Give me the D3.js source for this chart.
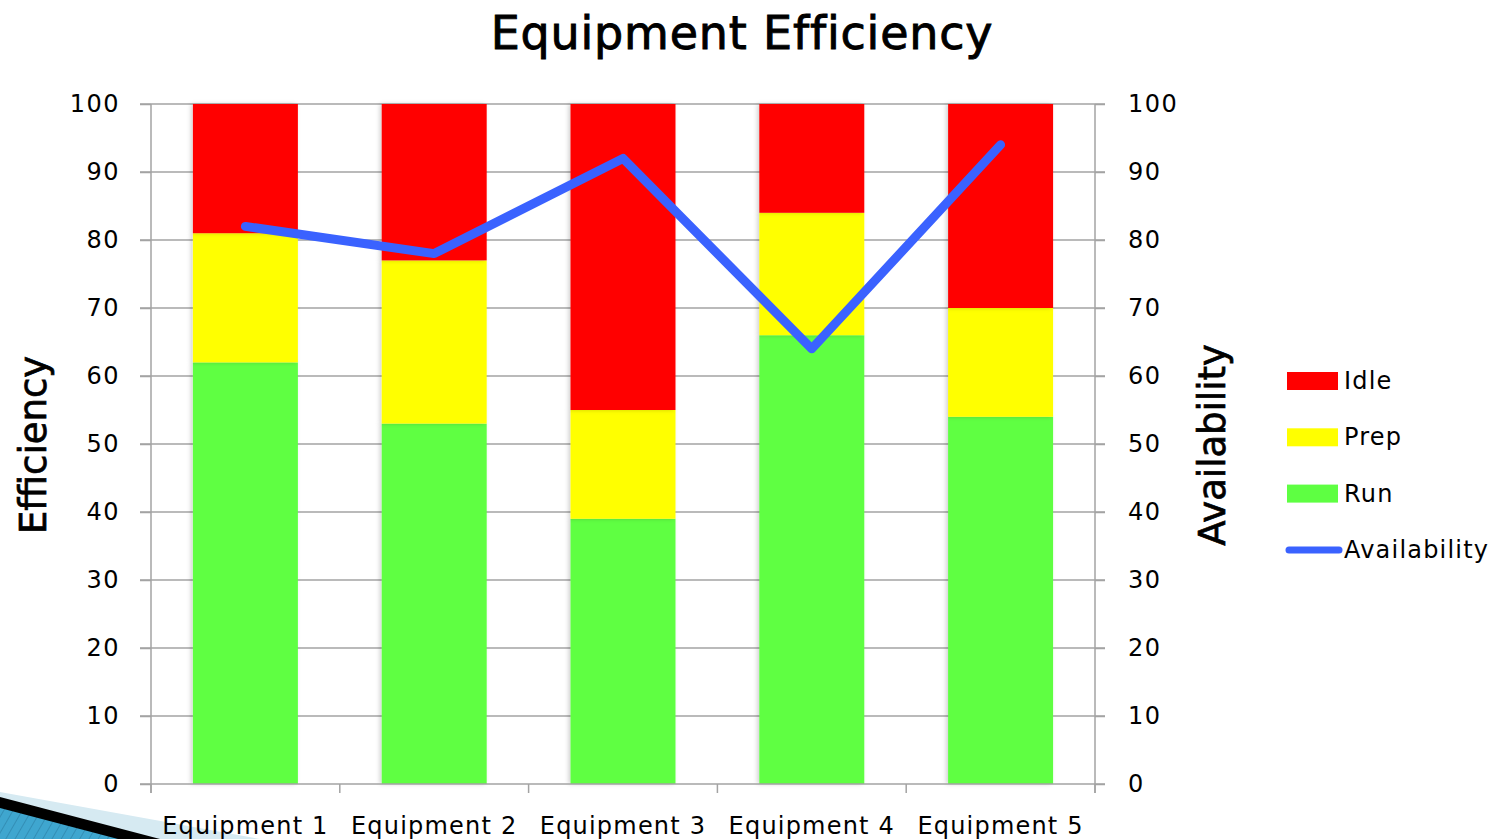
<!DOCTYPE html>
<html>
<head>
<meta charset="utf-8">
<script src="https://cdnjs.cloudflare.com/ajax/libs/d3/7.8.5/d3.min.js"></script>
<style>
  body { margin: 0; background: #fff; }
  svg text { font-family: "DejaVu Sans", sans-serif; fill: #000; }
</style>
</head>
<body>
<div id="chart"></div>
<script>
// chart data
const categories = ["Equipment 1", "Equipment 2", "Equipment 3", "Equipment 4", "Equipment 5"];
const runValues = [62, 53, 39, 66, 54];
const prepValues = [19, 24, 16, 18, 16];
const idleValues = [19, 23, 45, 16, 30];
const availability = [82, 78, 92, 64, 94];
const yTicks = [0, 10, 20, 30, 40, 50, 60, 70, 80, 90, 100];

const seriesNames = ["Run", "Prep", "Idle"];
const colors = {Run: "#5eff42", Prep: "#ffff00", Idle: "#ff0000"};
const lineColor = "#3a62ff";

const W = 1493, H = 839;
const margin = {top: 104, right: 398, bottom: 55, left: 151};

const svg = d3.select("#chart").append("svg")
    .attr("width", W)
    .attr("height", H);

const defs = svg.append("defs");
defs.append("filter").attr("id", "shadow")
    .attr("x", "-10%").attr("width", "120%")
    .append("feDropShadow")
    .attr("dx", -2).attr("dy", 0)
    .attr("stdDeviation", 2)
    .attr("flood-color", "#000")
    .attr("flood-opacity", 0.18);

const pattern = defs.append("pattern").attr("id", "hatch")
    .attr("patternUnits", "userSpaceOnUse")
    .attr("width", 8).attr("height", 8)
    .attr("patternTransform", "rotate(30)");
pattern.append("rect").attr("width", 8).attr("height", 8).attr("fill", "#3fa6cf");
pattern.append("line").attr("x1", 0).attr("y1", 0).attr("x2", 0).attr("y2", 8)
    .attr("stroke", "#2f86ad").attr("stroke-width", 1.5);

// corner decoration
svg.append("path")
    .attr("d", "M0,792 L260,839 L0,839 Z")
    .attr("fill", "#d6eaf2");
svg.append("path")
    .attr("d", "M0,797 L160,839 L0,839 Z")
    .attr("fill", "#000");
svg.append("path")
    .attr("d", "M0,808 L118,839 L0,839 Z")
    .attr("fill", "url(#hatch)");

const innerW = W - margin.left - margin.right;
const innerH = H - margin.top - margin.bottom;

const x = d3.scaleBand()
    .domain(categories)
    .range([0, innerW])
    .paddingInner(0.444)
    .paddingOuter(0.222);

const y = d3.scaleLinear()
    .domain([0, 100])
    .range([innerH, 0]);

const g = svg.append("g")
    .attr("transform", "translate(" + margin.left + "," + margin.top + ")");

// gridlines
g.append("g").selectAll("line")
    .data(yTicks.filter(d => d > 0))
    .enter()
    .append("line")
    .attr("x1", -11).attr("x2", innerW + 10)
    .attr("y1", d => y(d)).attr("y2", d => y(d))
    .attr("stroke", "#a3a3a3")
    .attr("stroke-width", 1.5);

// stacked bars
const table = categories.map((c, i) => ({
    name: c, Run: runValues[i], Prep: prepValues[i], Idle: idleValues[i]
}));
const stacked = d3.stack().keys(seriesNames)(table);

g.append("g").selectAll("g")
    .data(stacked)
    .enter()
    .append("g")
    .attr("fill", d => colors[d.key])
    .selectAll("rect")
    .data(d => d)
    .enter()
    .append("rect")
    .attr("x", d => x(d.data.name))
    .attr("y", d => y(d[1]))
    .attr("width", x.bandwidth())
    .attr("height", d => y(d[0]) - y(d[1]))
    .attr("filter", "url(#shadow)");

// left axis
const leftAxis = g.append("g")
    .call(d3.axisLeft(y).tickValues(yTicks).tickSize(11).tickPadding(20));
leftAxis.select(".domain").remove();
leftAxis.selectAll(".tick line").attr("stroke", "#a3a3a3").attr("stroke-width", 1.5);
leftAxis.append("line")
    .attr("x1", 0).attr("x2", 0).attr("y1", 0).attr("y2", innerH + 9)
    .attr("stroke", "#a3a3a3").attr("stroke-width", 1.5);
leftAxis.selectAll("text")
    .style("font-size", "24px")
    .style("letter-spacing", "1.5px")
    .style("font-family", "'DejaVu Sans', sans-serif")
    .attr("fill", "#000");

// right axis
const rightAxis = g.append("g")
    .attr("transform", "translate(" + innerW + ",0)")
    .call(d3.axisRight(y).tickValues(yTicks).tickSize(10).tickPadding(23));
rightAxis.select(".domain").remove();
rightAxis.selectAll(".tick line").attr("stroke", "#a3a3a3").attr("stroke-width", 1.5);
rightAxis.append("line")
    .attr("x1", 0).attr("x2", 0).attr("y1", 0).attr("y2", innerH + 9)
    .attr("stroke", "#a3a3a3").attr("stroke-width", 1.5);
rightAxis.selectAll("text")
    .style("font-size", "24px")
    .style("letter-spacing", "1.5px")
    .style("font-family", "'DejaVu Sans', sans-serif")
    .attr("fill", "#000");

// bottom axis
const step = x.step();
g.append("line")
    .attr("x1", -11).attr("x2", innerW + 10)
    .attr("y1", innerH).attr("y2", innerH)
    .attr("stroke", "#a3a3a3").attr("stroke-width", 1.5);
g.append("g").selectAll("line")
    .data(d3.range(categories.length + 1))
    .enter()
    .append("line")
    .attr("x1", d => d * step).attr("x2", d => d * step)
    .attr("y1", innerH).attr("y2", innerH + 9)
    .attr("stroke", "#a3a3a3").attr("stroke-width", 1.5);
g.append("g").selectAll("text")
    .data(categories)
    .enter()
    .append("text")
    .attr("x", d => x(d) + x.bandwidth() / 2)
    .attr("y", innerH + 50)
    .attr("text-anchor", "middle")
    .style("font-size", "24px")
    .style("letter-spacing", "1.2px")
    .text(d => d);

// availability line
const line = d3.line()
    .x((d, i) => x(categories[i]) + x.bandwidth() / 2)
    .y(d => y(d));
g.append("path")
    .datum(availability)
    .attr("d", line)
    .attr("fill", "none")
    .attr("stroke", lineColor)
    .attr("stroke-width", 9)
    .attr("stroke-linecap", "round")
    .attr("stroke-linejoin", "round");

// title
svg.append("text")
    .attr("x", 742)
    .attr("y", 49)
    .attr("text-anchor", "middle")
    .style("font-size", "46px")
    .style("letter-spacing", "0.8px")
    .style("stroke", "#000")
    .style("stroke-width", "0.9px")
    .text("Equipment Efficiency");

// axis titles
svg.append("text")
    .attr("transform", "translate(46,445) rotate(-90)")
    .attr("text-anchor", "middle")
    .style("font-size", "37px")
    .style("stroke", "#000")
    .style("stroke-width", "0.7px")
    .text("Efficiency");
svg.append("text")
    .attr("transform", "translate(1225,445) rotate(-90)")
    .attr("text-anchor", "middle")
    .style("font-size", "37px")
    .style("stroke", "#000")
    .style("stroke-width", "0.7px")
    .text("Availability");

// legend
const legendItems = ["Idle", "Prep", "Run", "Availability"];
const legend = svg.append("g").attr("transform", "translate(1287,381)");
const items = legend.selectAll("g")
    .data(legendItems)
    .enter()
    .append("g")
    .attr("transform", (d, i) => "translate(0," + i * 56.3 + ")");
items.each(function (d) {
    const it = d3.select(this);
    if (d === "Availability") {
        it.append("line")
            .attr("x1", 2).attr("x2", 52).attr("y1", 0).attr("y2", 0)
            .attr("stroke", lineColor).attr("stroke-width", 7)
            .attr("stroke-linecap", "round");
    } else {
        it.append("rect")
            .attr("x", 0).attr("y", -9)
            .attr("width", 51).attr("height", 18)
            .attr("fill", colors[d]);
    }
});
items.append("text")
    .attr("x", 57)
    .attr("y", 8)
    .style("font-size", "24px")
    .style("letter-spacing", "1.2px")
    .text(d => d);
</script>
</body>
</html>
